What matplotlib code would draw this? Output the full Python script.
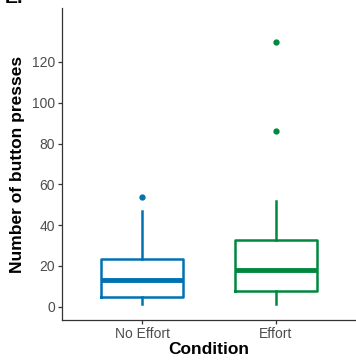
import matplotlib
matplotlib.use('Agg')
import matplotlib.pyplot as plt

plt.rcParams['font.family'] = ['Liberation Sans', 'DejaVu Sans']

# Summary values
conditions = ['No Effort', 'Effort']
medians = [13, 18]
q1s = [5, 7.5]
q3s = [23.5, 32.5]
whisker_low = [1.5, 1.5]
whisker_high = [47, 52]
outliers = [[54], [86, 130]]
colors = ['#0072B2', '#00883F']

fig = plt.figure(figsize=(3.56, 3.6), dpi=100)
ax = fig.add_axes([0.174, 0.111, 0.826, 0.867])

stats = []
for i, name in enumerate(conditions):
    stats.append({'label': name, 'med': medians[i], 'q1': q1s[i], 'q3': q3s[i],
                  'whislo': whisker_low[i], 'whishi': whisker_high[i],
                  'fliers': outliers[i]})

for i, s in enumerate(stats):
    c = colors[i]
    ax.bxp([s], positions=[i + 1], widths=0.61, showcaps=False,
           boxprops=dict(color=c, linewidth=1.8),
           whiskerprops=dict(color=c, linewidth=1.8),
           medianprops=dict(color=c, linewidth=3.5, solid_capstyle='butt'),
           flierprops=dict(marker='o', markerfacecolor=c, markeredgecolor=c,
                           markersize=3.5))

ax.set_xlim(0.4, 2.6)
ax.set_ylim(-6.5, 146.5)
ax.set_yticks([0, 20, 40, 60, 80, 100, 120])
ax.set_xticks([1, 2])
ax.set_xticklabels(conditions)

for side in ['top', 'right']:
    ax.spines[side].set_visible(False)
for side in ['left', 'bottom']:
    ax.spines[side].set_color('#333333')
    ax.spines[side].set_linewidth(0.9)
ax.tick_params(colors='#333333', labelcolor='#4D4D4D', labelsize=10,
               length=3, width=0.9, pad=2)

ax.set_xlabel('Condition', fontsize=12.5, fontweight='bold', labelpad=1)
ax.set_ylabel('Number of button presses', fontsize=12.5, fontweight='bold', labelpad=5)

fig.text(0.012, 1.005, 'E.', fontsize=14, fontweight='bold', va='center')

fig.savefig('out.png', dpi=100)
